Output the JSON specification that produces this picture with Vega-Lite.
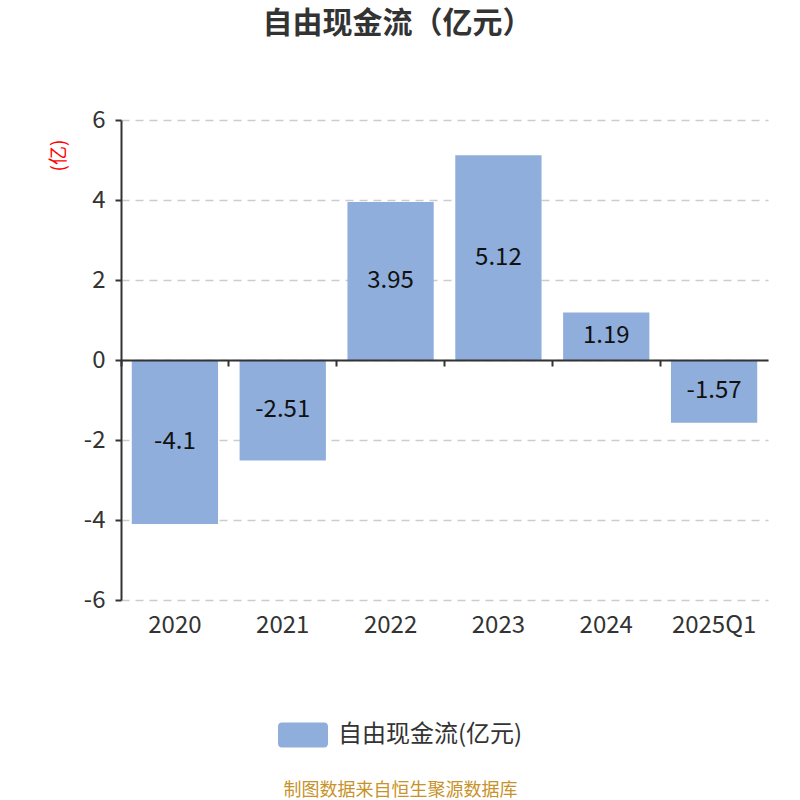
{
  "$schema": "https://vega.github.io/schema/vega-lite/v6.json",
  "width": 647,
  "height": 480,
  "autosize": {"type": "none"},
  "padding": {"left": 121, "top": 120, "right": 32, "bottom": 200},
  "background": "white",
  "config": {
    "font": "Noto Sans CJK SC",
    "view": {"stroke": null}
  },
  "title": {
    "text": "自由现金流（亿元）",
    "fontSize": 30,
    "fontWeight": "bold",
    "color": "#333333",
    "anchor": "middle",
    "dx": -47,
    "offset": 69,
    "limit": 0
  },
  "data": {
    "values": [
      {"period": "2020", "value": -4.1, "label": "-4.1"},
      {"period": "2021", "value": -2.51, "label": "-2.51"},
      {"period": "2022", "value": 3.95, "label": "3.95"},
      {"period": "2023", "value": 5.12, "label": "5.12"},
      {"period": "2024", "value": 1.19, "label": "1.19"},
      {"period": "2025Q1", "value": -1.57, "label": "-1.57"}
    ]
  },
  "layer": [
    {
      "mark": {"type": "bar"},
      "encoding": {
        "x": {
          "field": "period",
          "type": "nominal",
          "sort": null,
          "scale": {"paddingInner": 0.2, "paddingOuter": 0.1},
          "axis": {
            "orient": "bottom",
            "domain": false,
            "ticks": false,
            "labelAngle": 0,
            "labelFontSize": 24,
            "labelColor": "#333333",
            "labelPadding": 13,
            "title": "制图数据来自恒生聚源数据库",
            "titleFontSize": 18,
            "titleFontWeight": "normal",
            "titleColor": "#C8922A",
            "titleX": 279,
            "titleY": 190,
            "titleBaseline": "middle",
            "titleAlign": "center",
            "titleLimit": 0
          }
        },
        "y": {
          "field": "value",
          "type": "quantitative",
          "scale": {"domain": [-6, 6], "nice": false},
          "axis": {
            "values": [-6, -4, -2, 0, 2, 4, 6],
            "labelExpr": "datum.value < 0 ? '-' + abs(datum.value) : '' + datum.value",
            "domainColor": "#333333",
            "domainWidth": 2,
            "tickColor": "#333333",
            "tickSize": 6,
            "tickWidth": 2,
            "labelFontSize": 24,
            "labelColor": "#333333",
            "labelPadding": 10,
            "gridColor": "#cccccc",
            "gridDash": [8, 6],
            "gridWidth": 1.5,
            "title": "(亿)",
            "titleColor": "#ff0000",
            "titleFontSize": 19,
            "titleFontWeight": "normal",
            "titleAngle": -90,
            "titleX": -63,
            "titleY": 35,
            "titleAlign": "center",
            "titleBaseline": "middle"
          }
        },
        "color": {
          "datum": "自由现金流(亿元)",
          "type": "nominal",
          "scale": {"range": ["#8FAEDB"]},
          "legend": {
            "title": null,
            "orient": "none",
            "legendX": 157,
            "legendY": 590,
            "symbolType": "M-0.85,-0.5 H0.85 A0.15,0.15 0 0 1 1,-0.35 V0.35 A0.15,0.15 0 0 1 0.85,0.5 H-0.85 A0.15,0.15 0 0 1 -1,0.35 V-0.35 A0.15,0.15 0 0 1 -0.85,-0.5 Z",
            "symbolSize": 2500,
            "symbolStrokeWidth": 0,
            "symbolOpacity": 1,
            "labelFontSize": 24,
            "labelColor": "#333333",
            "labelOffset": 10,
            "labelLimit": 400
          }
        }
      }
    },
    {
      "transform": [{"calculate": "datum.value / 2", "as": "mid"}],
      "mark": {"type": "text", "fontSize": 24, "color": "#111111", "baseline": "middle", "align": "center"},
      "encoding": {
        "x": {
          "field": "period",
          "type": "nominal",
          "sort": null,
          "axis": {
            "orient": "bottom",
            "offset": -240,
            "labels": false,
            "title": null,
            "bandPosition": -0.125,
            "domainColor": "#333333",
            "domainWidth": 2,
            "tickColor": "#333333",
            "tickWidth": 2,
            "tickSize": 6,
            "grid": false,
            "zindex": 1
          }
        },
        "y": {"field": "mid", "type": "quantitative"},
        "text": {"field": "label"}
      }
    }
  ],
  "resolve": {"axis": {"x": "independent"}}
}
